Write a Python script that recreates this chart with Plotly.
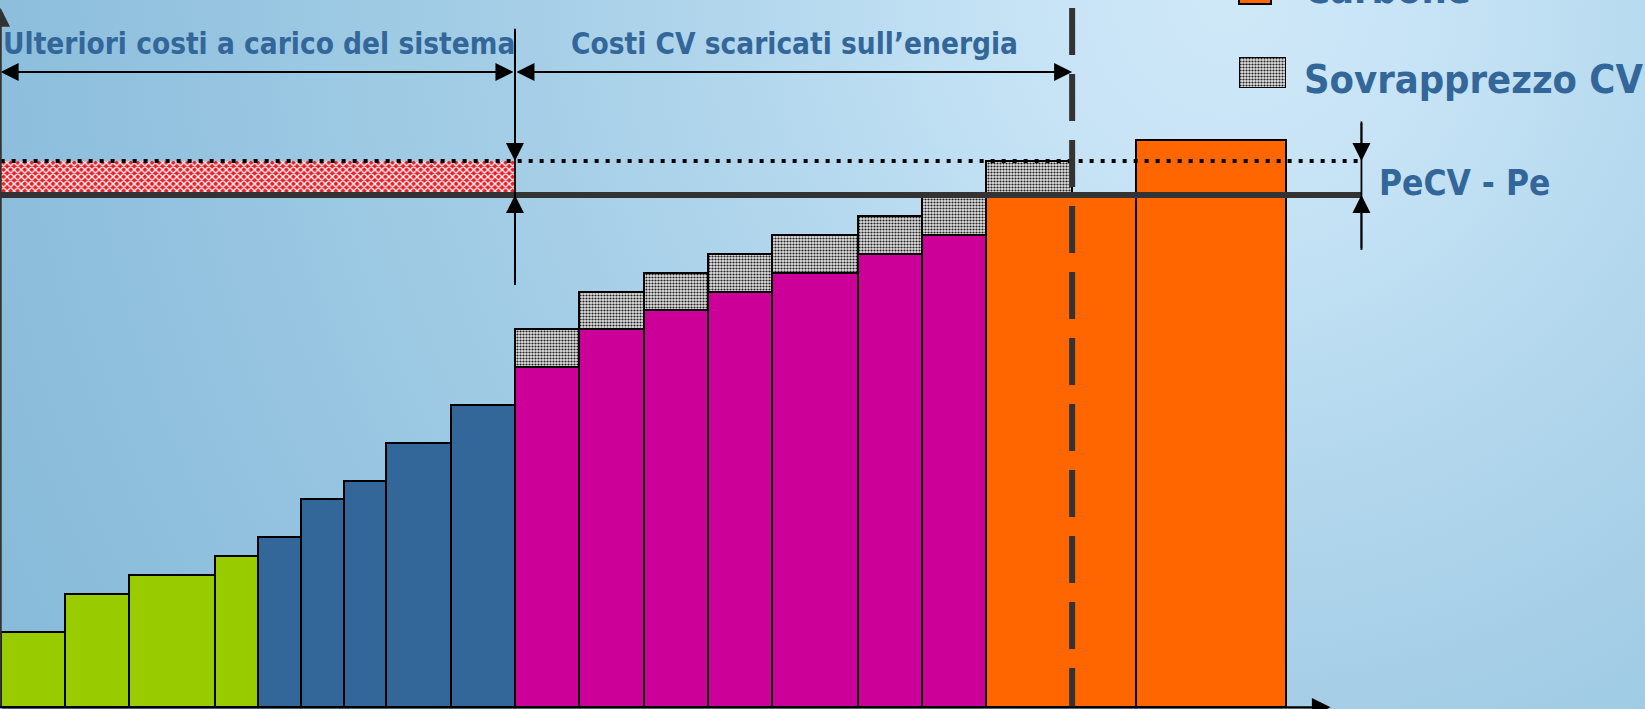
import base64
import numpy as np
import plotly.graph_objects as go

# ---------------- data ----------------
# bar widths (capacity units) and heights (cost units), by technology group
green_w = [3, 3, 4, 2]
green_h = [4, 6, 7, 8]
blue_w = [2, 2, 2, 3, 3]
blue_h = [9, 11, 12, 14, 16]
magenta_w = [3, 3, 3, 3, 4, 3, 3]
magenta_h = [18, 20, 21, 22, 23, 24, 25]
carbone_w = [7, 7]
carbone_h = [27, 30]

# Sovrapprezzo CV: on every magenta bar and on the first part of the first "Carbone" bar
sovr_w = [3, 3, 3, 3, 4, 3, 3, 4]
sovr_h = [2, 2, 2, 2, 2, 2, 2, 1.9]

Pe = 27.1          # energy price (solid line)
PeCV = 28.9        # energy price with CV (dotted line)
limite_sistema = 24   # end of "Ulteriori costi a carico del sistema"
limite_cv = 50        # dashed vertical line
extra_costi_h = PeCV - Pe

title_left = "Ulteriori costi a carico del sistema"
title_right = "Costi CV scaricati sull\u2019energia"
delta_label = "PeCV - Pe"
legend_labels = ["Carbone", "Sovrapprezzo CV"]

# ---------------- styles ----------------
C_GREEN = "#99cc00"
C_BLUE = "#336699"
C_MAG = "#cc0099"
C_ORANGE = "#ff6600"
C_TEXT = "#336699"
FONT = "DejaVu Sans Condensed, DejaVu Sans, sans-serif"
W, H = 1645, 709

# positions derived from widths
all_w = green_w + blue_w + magenta_w + carbone_w
edges = np.concatenate([[0], np.cumsum(all_w)])
lefts = edges[:-1]
centers = lefts + np.array(all_w) / 2.0
n1, n2, n3 = len(green_w), len(green_w) + len(blue_w), len(green_w) + len(blue_w) + len(magenta_w)

sovr_left = list(lefts[n2:n3]) + [lefts[n3]]
sovr_x = np.array(sovr_left) + np.array(sovr_w) / 2.0
sovr_base = magenta_h + [carbone_h[0]]

grey_pattern = dict(shape=".", size=3, solidity=0.42, fgcolor="#222222", bgcolor="#e4e4e4", fillmode="replace")
red_pattern = dict(shape="x", size=5, solidity=0.45, fgcolor="#ffffff", bgcolor="#e8202a", fillmode="replace")
outline = dict(color="black", width=2)

fig = go.Figure()

def add_group(sl, ws, hs, color, name):
    fig.add_trace(go.Bar(x=centers[sl], y=hs, width=ws, marker=dict(color=color, line=outline),
                         name=name, showlegend=False, hoverinfo="skip"))

add_group(slice(0, n1), green_w, green_h, C_GREEN, "gruppo 1")
add_group(slice(n1, n2), blue_w, blue_h, C_BLUE, "gruppo 2")
add_group(slice(n2, n3), magenta_w, magenta_h, C_MAG, "gruppo 3")
add_group(slice(n3, len(all_w)), carbone_w, carbone_h, C_ORANGE, legend_labels[0])

fig.add_trace(go.Bar(x=sovr_x, y=sovr_h, base=sovr_base, width=sovr_w,
                     marker=dict(color="#bbbbbb", pattern=grey_pattern, line=outline),
                     name=legend_labels[1], showlegend=False, hoverinfo="skip"))

# extra system cost band
fig.add_trace(go.Bar(x=[limite_sistema / 2.0], y=[extra_costi_h], base=[Pe], width=[limite_sistema],
                     marker=dict(color="#e8202a", pattern=red_pattern, line=dict(width=0)),
                     showlegend=False, hoverinfo="skip"))

# legend swatch (grey) on its own small axes
fig.add_trace(go.Bar(x=[0.5], y=[1], width=[1], xaxis="x2", yaxis="y2", cliponaxis=False,
                     marker=dict(color="#bbbbbb", pattern=grey_pattern, line=outline),
                     showlegend=False, hoverinfo="skip"))

# ---------------- axes ----------------
ux = 21.43   # px per x unit
uy = 18.9    # px per y unit
x0 = -0.03
y_base_px = 707.3
xr = [x0, x0 + W / ux]
yr = [-(H - y_base_px) / uy, y_base_px / uy]

line_end = 63.5
shapes = [
    # Pe solid
    dict(type="line", x0=0, x1=line_end, y0=Pe, y1=Pe, line=dict(color="#333333", width=6)),
    # PeCV dotted
    dict(type="line", x0=0, x1=line_end, y0=PeCV, y1=PeCV, line=dict(color="black", width=4, dash="4px,7px")),
    # vertical separators
    dict(type="line", x0=limite_sistema, x1=limite_sistema, y0=22.35, y1=35.9, line=dict(color="black", width=1.8)),
    dict(type="line", x0=line_end, x1=line_end, y0=24.2, y1=31.0, line=dict(color="black", width=1.8)),
    # dashed line
    dict(type="line", x0=limite_cv, x1=limite_cv, y0=37.0, y1=0, line=dict(color="#333333", width=6, dash="47px,19px")),
    # orange legend swatch
    dict(type="rect", xref="paper", yref="paper", x0=1239 / W, x1=1271 / W, y0=1 - 4 / H, y1=1.1,
         fillcolor=C_ORANGE, line=dict(color="black", width=2)),
]

def arrow(x, y, ax, ay, both=False, width=1.8, color="black", size=2.0):
    d = dict(x=x, y=y, ax=ax, ay=ay, xref="x", yref="y", axref="x", ayref="y", text="",
             showarrow=True, arrowhead=2, arrowsize=size, arrowwidth=width, arrowcolor=color, standoff=0)
    if both:
        d.update(arrowside="end+start", startarrowhead=2, startarrowsize=size, startstandoff=0)
    return d

y_arrow = (y_base_px - 72) / uy
annotations = [
    arrow(0, y_arrow, limite_sistema, y_arrow, both=True),
    arrow(limite_cv, y_arrow, limite_sistema, y_arrow, both=True),
    arrow(limite_sistema, PeCV, limite_sistema, 35.9),
    arrow(limite_sistema, Pe, limite_sistema, 22.35),
    arrow(line_end, PeCV, line_end, 31.0),
    arrow(line_end, Pe, line_end, 24.2),
    arrow(62.06, 0, 0, 0, width=2.2, size=1.7),
    arrow(0, 37.0, 0, 0, width=2.2, color="#333333", size=1.7),
]

def label(text, px, py, size, xanchor="center"):
    return dict(text="<b>%s</b>" % text, x=px / W, y=1 - py / H, xref="paper", yref="paper",
                xanchor=xanchor, yanchor="middle", showarrow=False,
                font=dict(family=FONT, size=size, color=C_TEXT))

annotations += [
    label(title_left, 259, 43.5, 29.5),
    label(title_right, 794.5, 43.5, 29.5),
    label(delta_label, 1464.5, 183.5, 35),
    label(legend_labels[1], 1302, 79, 39.5, xanchor="left"),
    label(legend_labels[0], 1302, -10.5, 39.5, xanchor="left"),
]

# background gradient as inline SVG
svg = ('<svg xmlns="http://www.w3.org/2000/svg" width="1645" height="709" viewBox="0 0 1645 709" '
       'preserveAspectRatio="none"><defs><radialGradient id="g" gradientUnits="userSpaceOnUse" '
       'cx="1230" cy="0" r="1450">'
       '<stop offset="0" stop-color="#cfe8f8"/><stop offset="0.15" stop-color="#c6e3f5"/>'
       '<stop offset="0.32" stop-color="#b4d8ee"/><stop offset="0.48" stop-color="#a6cfe7"/>'
       '<stop offset="0.8" stop-color="#8fc0de"/><stop offset="1" stop-color="#86b9d8"/>'
       '</radialGradient></defs><rect width="1645" height="709" fill="url(#g)"/></svg>')
bg_uri = "data:image/svg+xml;base64," + base64.b64encode(svg.encode()).decode()

ax_common = dict(visible=False, showgrid=False, zeroline=False, fixedrange=True)
fig.update_layout(
    width=W, height=H, margin=dict(l=0, r=0, t=0, b=0, pad=0),
    paper_bgcolor="#a6cfe7", plot_bgcolor="rgba(0,0,0,0)",
    barmode="overlay", bargap=0,
    xaxis=dict(range=xr, domain=[0, 1], **ax_common),
    yaxis=dict(range=yr, domain=[0, 1], **ax_common),
    xaxis2=dict(range=[0, 1], domain=[1239 / W, 1286 / W], anchor="y2", **ax_common),
    yaxis2=dict(range=[0, 1], domain=[1 - 88 / H, 1 - 57 / H], anchor="x2", **ax_common),
    shapes=shapes, annotations=annotations,
    images=[dict(source=bg_uri, xref="paper", yref="paper", x=0, y=1, sizex=1, sizey=1,
                 xanchor="left", yanchor="top", sizing="stretch", layer="below")],
    showlegend=False,
)

fig.write_html("out.html", config={"displayModeBar": False},
               post_script="document.body.style.margin='0';document.body.style.overflow='hidden';")
